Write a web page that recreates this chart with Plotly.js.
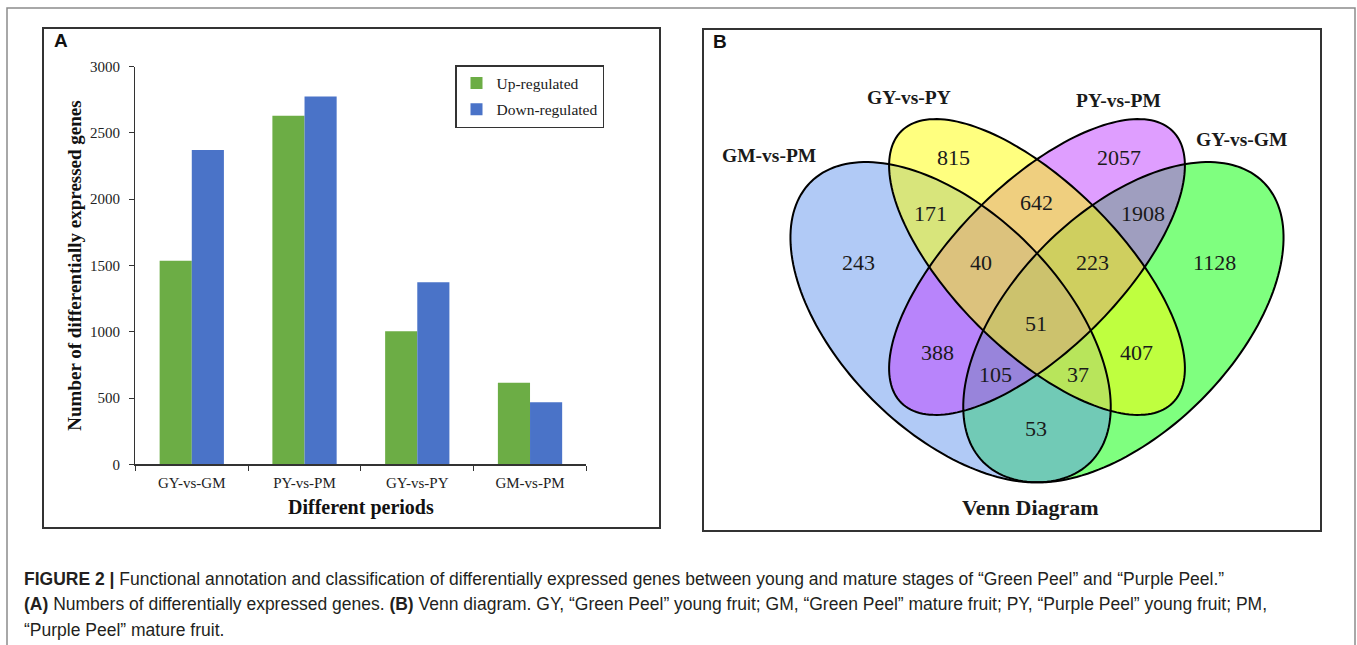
<!DOCTYPE html>
<html><head><meta charset="utf-8">
<script src="https://cdn.plot.ly/plotly-3.0.1.min.js"></script>
<style>html,body{margin:0;padding:0;background:#fff;}#chart{width:1357px;height:645px;}</style>
</head><body><div id="chart"></div>
<script>
// ---------- Panel A data ----------
const categories = ["GY-vs-GM", "PY-vs-PM", "GY-vs-PY", "GM-vs-PM"];
const upRegulated = [1536, 2630, 1003, 616];
const downRegulated = [2371, 2776, 1373, 468];
const yTickVals = [0, 500, 1000, 1500, 2000, 2500, 3000];
const seriesNames = ["Up-regulated", "Down-regulated"];

// ---------- Panel B data (Venn) ----------
const vennSetNames = ["GY-vs-GM", "GM-vs-PM", "PY-vs-PM", "GY-vs-PY"];
const vennRegionKeys = ["GM", "B", "M", "Y", "BY", "YM", "MG", "BM", "YG", "BG", "BYM", "YMG", "BMG", "BYG", "BYMG"];
const vennCounts     = [1128, 243, 2057, 815, 171, 642, 1908, 388, 407, 53, 40, 223, 105, 37, 51];

// ---------- Caption ----------
const captionLines = [
  "<b>FIGURE 2 |</b> Functional annotation and classification of differentially expressed genes between young and mature stages of \u201cGreen Peel\u201d and \u201cPurple Peel.\u201d",
  "<b>(A)</b> Numbers of differentially expressed genes. <b>(B)</b> Venn diagram. GY, \u201cGreen Peel\u201d young fruit; GM, \u201cGreen Peel\u201d mature fruit; PY, \u201cPurple Peel\u201d young fruit; PM,",
  "\u201cPurple Peel\u201d mature fruit."
];

// ---------- Layout helpers (pixel geometry) ----------
const W = 1357, H = 645;
const px = v => v / W, py = v => 1 - v / H;
const serif = "Liberation Serif, Times New Roman, serif";
const sans = "Liberation Sans, Arial, sans-serif";

// Venn ellipse geometry (in page pixel units on overlay axes), same order as vennSetNames
const vennGeom = [
  {cx: 1123.4, cy: 322.2, a: 198, b: 110, dx: -0.7071, dy: 0.7071, color: "rgba(0,255,0,0.5)"},
  {cx: 950.6,  cy: 322.2, a: 198, b: 110, dx: 0.7071,  dy: 0.7071, color: "rgba(100,149,237,0.5)"},
  {cx: 1037,   cy: 267,   a: 192, b: 83,  dx: -0.7071, dy: 0.7071, color: "rgba(191,62,255,0.5)"},
  {cx: 1037,   cy: 267,   a: 192, b: 83,  dx: 0.7071,  dy: 0.7071, color: "rgba(255,255,0,0.5)"}
];
const vennSetLabelPos = [[1241, 139], [769, 155], [1118, 100], [909, 97]];
const vennRegionPos = {
  GM: [1214, 262], B: [858, 262], M: [1119, 157], Y: [953, 157],
  BY: [930, 213], YM: [1036, 202], MG: [1143, 213], BM: [937, 352], YG: [1136, 352], BG: [1036, 428],
  BYM: [981, 262], YMG: [1092, 262], BMG: [995, 374], BYG: [1078, 374], BYMG: [1036, 323]
};

function ellipsePath(g) {
  const n = 180; let s = "";
  const nx = -g.dy, ny = g.dx;
  for (let i = 0; i <= n; i++) {
    const t = 2 * Math.PI * i / n;
    const x = g.cx + g.a * Math.cos(t) * g.dx + g.b * Math.sin(t) * nx;
    const y = g.cy + g.a * Math.cos(t) * g.dy + g.b * Math.sin(t) * ny;
    s += (i === 0 ? "M" : "L") + x.toFixed(2) + "," + y.toFixed(2);
  }
  return s + "Z";
}

// ---------- Traces ----------
const traces = [
  {type: "bar", name: seriesNames[0], x: categories, y: upRegulated,
   marker: {color: "#6cad45"}, legendgroup: "up", xaxis: "x", yaxis: "y"},
  {type: "bar", name: seriesNames[1], x: categories, y: downRegulated,
   marker: {color: "#4a73c8"}, legendgroup: "down", xaxis: "x", yaxis: "y"}
];

// ---------- Shapes ----------
const P = {xref: "x2", yref: "y2"};
const shapes = [];
shapes.push(Object.assign({type: "path", path: "M7,660 L7,8 L1355,8 L1355,660", line: {color: "#8c8c8c", width: 1.5}}, P));
shapes.push(Object.assign({type: "rect", x0: 43, y0: 28, x1: 660, y1: 528, line: {color: "#333", width: 2}}, P));
shapes.push(Object.assign({type: "rect", x0: 703, y0: 29, x1: 1321, y1: 531, line: {color: "#333", width: 2}}, P));
vennGeom.forEach(g => shapes.push(Object.assign({type: "path", path: ellipsePath(g), fillcolor: g.color, line: {width: 0}}, P)));
vennGeom.forEach(g => shapes.push(Object.assign({type: "path", path: ellipsePath(g), line: {color: "#000", width: 2}}, P)));

// ---------- Annotations ----------
const ann = [];
function A(text, x, y, size, opts) {
  ann.push(Object.assign({xref: "x2", yref: "y2", x: x, y: y, text: text, showarrow: false,
    font: {family: serif, size: size, color: "#1a1a1a"}, xanchor: "center", yanchor: "middle"}, opts || {}));
}
A("A", 52, 40, 19, {font: {family: sans, size: 19, color: "#111", weight: "bold"}, xanchor: "left"});
A("B", 711, 41, 19, {font: {family: sans, size: 19, color: "#111", weight: "bold"}, xanchor: "left"});
vennSetNames.forEach((nm, i) => A(nm, vennSetLabelPos[i][0], vennSetLabelPos[i][1], 19.5, {font: {family: serif, size: 19.5, color: "#1a1a1a", weight: "bold"}}));
vennRegionKeys.forEach((k, i) => A(String(vennCounts[i]), vennRegionPos[k][0], vennRegionPos[k][1], 22));
A("Venn Diagram", 1030, 507, 22, {font: {family: serif, size: 22, color: "#1a1a1a", weight: "bold"}});
const capY = [579, 604, 630];
captionLines.forEach((t, i) => A(t, 22, capY[i], 17.5, {font: {family: sans, size: 17.5, color: "#231f20"}, xanchor: "left"}));

// ---------- Layout ----------
const layout = {
  width: W, height: H, margin: {l: 0, r: 0, t: 0, b: 0},
  paper_bgcolor: "#fff", plot_bgcolor: "rgba(0,0,0,0)",
  barmode: "group", bargap: 0.43, bargroupgap: 0,
  showlegend: true,
  legend: {x: px(455), y: py(65), xanchor: "left", yanchor: "top", bgcolor: "#fff",
    bordercolor: "#333", borderwidth: 1.5, font: {family: serif, size: 15.5, color: "#1a1a1a"},
    traceorder: "grouped", tracegroupgap: 3, itemwidth: 30},
  xaxis: {domain: [px(135.4), px(586.4)], anchor: "y", type: "category",
    showline: true, linecolor: "#333", linewidth: 1.5, ticks: "outside", tickson: "boundaries",
    ticklen: 5, tickcolor: "#333", tickfont: {family: serif, size: 15, color: "#222"}, ticklabelstandoff: 4,
    title: {text: "Different periods", font: {family: serif, size: 20, color: "#111", weight: "bold"}, standoff: 10},
    fixedrange: true},
  yaxis: {domain: [py(464.3), py(66.7)], anchor: "x", range: [0, 3000], tickvals: yTickVals,
    showline: true, linecolor: "#333", linewidth: 1.5, ticks: "outside", ticklen: 5, tickcolor: "#333",
    showgrid: false, zeroline: false, tickfont: {family: serif, size: 15, color: "#222"}, ticklabelstandoff: 6,
    title: {text: "Number of differentially expressed genes", font: {family: serif, size: 19, color: "#111", weight: "bold"}, standoff: 3},
    fixedrange: true},
  xaxis2: {domain: [0, 1], range: [0, W], anchor: "y2", visible: false, fixedrange: true},
  yaxis2: {domain: [0, 1], range: [H, 0], anchor: "x2", visible: false, fixedrange: true},
  shapes: shapes, annotations: ann
};

Plotly.newPlot("chart", traces, layout, {displayModeBar: false, staticPlot: true});
</script></body></html>
